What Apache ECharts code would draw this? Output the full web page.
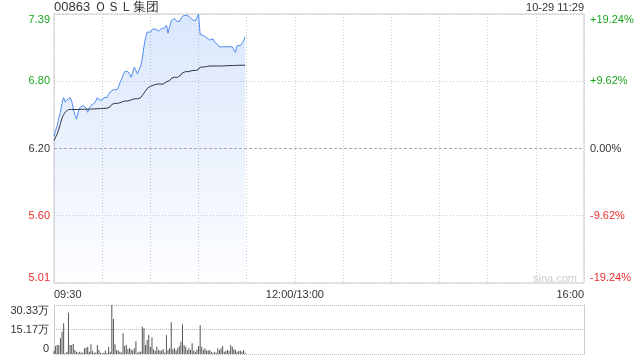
<!DOCTYPE html>
<html><head><meta charset="utf-8">
<script src="https://cdn.jsdelivr.net/npm/echarts@6/dist/echarts.min.js"></script>
<style>html,body{margin:0;padding:0;background:#fff}#c{width:640px;height:360px}</style>
</head><body><div id="c"></div>
<script>
const titleText = '00863 ＯＳＬ集团';
const stampText = '10-29 11:29';
const timeTickMinutes = [0, 150, 330];
const timeTicks = ['09:30', '12:00/13:00', '16:00'];
const priceTicks = ['5.01', '5.60', '6.20', '6.80', '7.39'];
const pctTicks = ['-19.24%', '-9.62%', '0.00%', '+9.62%', '+19.24%'];
const volTicks = ['0', '15.17万', '30.33万'];
const prevClose = 6.20;

// minute-by-minute price (09:30 .. 11:29)
const price = [
  6.31, 6.36, 6.40, 6.47, 6.52, 6.60, 6.65, 6.61, 6.63, 6.62,
  6.65, 6.62, 6.55, 6.50, 6.46, 6.52, 6.56, 6.57, 6.58, 6.57,
  6.56, 6.52, 6.56, 6.58, 6.59, 6.60, 6.62, 6.65, 6.63, 6.64,
  6.63, 6.65, 6.66, 6.65, 6.68, 6.70, 6.71, 6.72, 6.71, 6.72,
  6.74, 6.78, 6.81, 6.85, 6.88, 6.89, 6.88, 6.86, 6.83, 6.87,
  6.92, 6.89, 6.86, 6.90, 6.93, 7.00, 7.10, 7.18, 7.23, 7.24,
  7.23, 7.25, 7.24, 7.26, 7.25, 7.24, 7.25, 7.26, 7.25, 7.27,
  7.29, 7.22, 7.28, 7.33, 7.34, 7.35, 7.33, 7.32, 7.32, 7.35,
  7.37, 7.38, 7.38, 7.38, 7.37, 7.36, 7.34, 7.33, 7.33, 7.34,
  7.39, 7.21, 7.20, 7.20, 7.19, 7.18, 7.17, 7.16, 7.15, 7.17,
  7.14, 7.13, 7.12, 7.10, 7.10, 7.10, 7.10, 7.10, 7.10, 7.10,
  7.10, 7.10, 7.10, 7.05, 7.11, 7.11, 7.11, 7.11, 7.15, 7.19
];
// average price line
const avgPrice = [
  6.27, 6.30, 6.33, 6.37, 6.42, 6.47, 6.50, 6.52, 6.53, 6.545,
  6.545, 6.545, 6.545, 6.545, 6.545, 6.545, 6.545, 6.547, 6.547, 6.547,
  6.547, 6.548, 6.548, 6.549, 6.55, 6.55, 6.55, 6.552, 6.553, 6.553,
  6.554, 6.555, 6.555, 6.556, 6.558, 6.57, 6.59, 6.60, 6.60, 6.60,
  6.60, 6.61, 6.61, 6.62, 6.62, 6.62, 6.62, 6.63, 6.63, 6.63,
  6.64, 6.64, 6.64, 6.65, 6.65, 6.67, 6.69, 6.71, 6.73, 6.74,
  6.75, 6.76, 6.76, 6.76, 6.77, 6.77, 6.77, 6.77, 6.77, 6.78,
  6.79, 6.79, 6.80, 6.82, 6.82, 6.83, 6.83, 6.83, 6.84, 6.85,
  6.87, 6.87, 6.88, 6.88, 6.88, 6.89, 6.89, 6.89, 6.89, 6.90,
  6.90, 6.92, 6.92, 6.92, 6.92, 6.925, 6.925, 6.93, 6.93, 6.93,
  6.93, 6.93, 6.93, 6.93, 6.93, 6.93, 6.932, 6.932, 6.933, 6.933,
  6.934, 6.934, 6.935, 6.935, 6.935, 6.936, 6.936, 6.937, 6.937, 6.937
];
// volume in 万 shares
const volume = [
  2.0, 4.9, 5.6, 5.6, 9.7, 13.8, 19.0, 0.4, 1.4, 25.6,
  5.6, 5.6, 6.2, 2.5, 1.4, 0.8, 1.4, 0.8, 1.0, 3.5,
  3.9, 4.5, 1.4, 6.0, 1.9, 0.8, 1.0, 5.6, 2.5, 0.8,
  0.4, 0.8, 2.1, 0.6, 4.5, 1.4, 30.33, 21.7, 6.0, 2.5,
  2.1, 1.4, 1.0, 12.8, 5.0, 5.6, 2.9, 3.5, 2.9, 2.1,
  3.5, 8.0, 0.8, 1.4, 1.4, 16.9, 15.9, 5.6, 8.7, 11.8,
  4.5, 10.3, 2.9, 1.9, 4.5, 2.5, 2.1, 2.1, 2.9, 1.0,
  11.8, 2.5, 3.5, 19.6, 2.9, 3.5, 2.1, 3.5, 5.0, 7.6,
  18.4, 5.6, 4.5, 2.5, 3.5, 2.5, 6.6, 2.1, 1.4, 2.9,
  5.0, 17.9, 4.5, 2.5, 3.5, 2.1, 2.1, 2.5, 1.4, 0.8,
  1.4, 0.8, 3.5, 2.5, 3.5, 5.0, 1.4, 1.9, 2.5, 1.9,
  5.6, 4.5, 2.9, 2.5, 1.4, 1.9, 2.1, 1.4, 2.5, 0.8
];

const GREEN = '#1ea51e', RED = '#ef2a2a', DARK = '#333';
const FONT = '"Liberation Sans", Arial, sans-serif';
const nearest = (ticks, v) => {
  for (const t of ticks) { if (Math.abs(parseFloat(t.replace('万', '')) - v) < 0.011) return t; }
  return '';
};
const colorFor = v => Math.abs(v - prevClose) < 0.011 ? DARK : (v > prevClose ? GREEN : RED);
const pctColor = v => Math.abs(v) < 0.01 ? DARK : (v > 0 ? GREEN : RED);
const dotted = { color: '#ccc', width: 1, type: [1, 2] };

const chart = echarts.init(document.getElementById('c'), null, { renderer: 'canvas' });
chart.setOption({
  animation: false,
  textStyle: { fontFamily: FONT },
  grid: [
    { left: 54, right: 56, top: 14, height: 269, show: true, borderColor: '#ccc', borderWidth: 1, backgroundColor: 'transparent' },
    { left: 54, right: 56, top: 305, height: 49 }
  ],
  xAxis: [
    {
      type: 'value', gridIndex: 0, min: 0, max: 330, interval: 30,
      axisLine: { show: false }, axisTick: { show: false },
      splitLine: { show: true, lineStyle: dotted },
      axisLabel: {
        show: true, margin: 6, fontSize: 11, color: DARK, fontFamily: FONT,
        alignMinLabel: 'left', alignMaxLabel: 'right',
        formatter: v => { const i = timeTickMinutes.indexOf(Math.round(v)); return i >= 0 ? timeTicks[i] : ''; }
      }
    },
    {
      type: 'value', gridIndex: 1, min: 0, max: 330,
      axisLine: { show: false }, axisTick: { show: false }, axisLabel: { show: false }, splitLine: { show: false }
    }
  ],
  yAxis: [
    {
      type: 'value', gridIndex: 0, position: 'left', min: 5.01, max: 7.39, interval: 0.595,
      axisLine: { show: false }, axisTick: { show: false },
      splitLine: { show: true, lineStyle: { color: ['#ccc', '#ccc', 'rgba(0,0,0,0)', '#ccc', '#ccc'], width: 1, type: [1, 2] } },
      axisLabel: {
        margin: 4, fontSize: 11, fontFamily: FONT,
        verticalAlignMinLabel: 'bottom', verticalAlignMaxLabel: 'top',
        formatter: v => nearest(priceTicks, v),
        color: v => colorFor(v)
      }
    },
    {
      type: 'value', gridIndex: 0, position: 'right', min: -19.24, max: 19.24, interval: 9.62,
      axisLine: { show: false }, axisTick: { show: false }, splitLine: { show: false },
      axisLabel: {
        margin: 6, fontSize: 11, fontFamily: FONT,
        verticalAlignMinLabel: 'bottom', verticalAlignMaxLabel: 'top',
        formatter: v => nearest(pctTicks, v),
        color: v => pctColor(v)
      }
    },
    {
      type: 'value', gridIndex: 1, position: 'left', min: 0, max: 30.33, interval: 15.165,
      axisLine: { show: true, lineStyle: { color: '#ccc', width: 1 } }, axisTick: { show: false },
      splitLine: { show: true, lineStyle: { color: '#bbb', width: 1, type: [1, 1] } },
      axisLabel: {
        margin: 5, fontSize: 11, color: DARK, fontFamily: FONT,
        verticalAlignMinLabel: 'bottom', verticalAlignMaxLabel: 'top',
        formatter: v => nearest(volTicks, v)
      }
    },
    {
      type: 'value', gridIndex: 1, position: 'right', min: 0, max: 30.33,
      axisLine: { show: true, lineStyle: { color: '#ccc', width: 1 } }, axisTick: { show: false },
      splitLine: { show: false }, axisLabel: { show: false }
    }
  ],
  series: [
    {
      type: 'line', xAxisIndex: 0, yAxisIndex: 0, symbol: 'none',
      data: price.map((v, i) => [i, v]),
      lineStyle: { color: '#4f8cf0', width: 1 },
      areaStyle: {
        origin: 'start',
        color: new echarts.graphic.LinearGradient(0, 0, 0, 1, [
          { offset: 0, color: 'rgba(80,140,240,0.30)' },
          { offset: 1, color: 'rgba(80,140,240,0.02)' }
        ])
      },
      markLine: {
        silent: true, symbol: 'none', label: { show: false },
        lineStyle: { color: '#aaa', width: 1, type: [3, 2] },
        data: [{ yAxis: prevClose }]
      },
      z: 3
    },
    {
      type: 'line', xAxisIndex: 0, yAxisIndex: 0, symbol: 'none',
      data: avgPrice.map((v, i) => [i, v]),
      lineStyle: { color: '#2c3440', width: 1 },
      z: 4
    },
    {
      type: 'bar', xAxisIndex: 1, yAxisIndex: 2, barWidth: 1,
      data: volume.map((v, i) => [i, v]),
      itemStyle: { color: '#555' }
    }
  ],
  graphic: [
    { type: 'text', left: 54, top: 1, style: { text: titleText, font: '13px ' + FONT, fill: DARK } },
    { type: 'text', right: 56, top: 2, style: { text: stampText, font: '11px ' + FONT, fill: DARK } },
    { type: 'text', right: 63, top: 273, style: { text: 'sina.com', font: '11px ' + FONT, fill: '#ccc' } }
  ]
});
</script>
</body></html>
